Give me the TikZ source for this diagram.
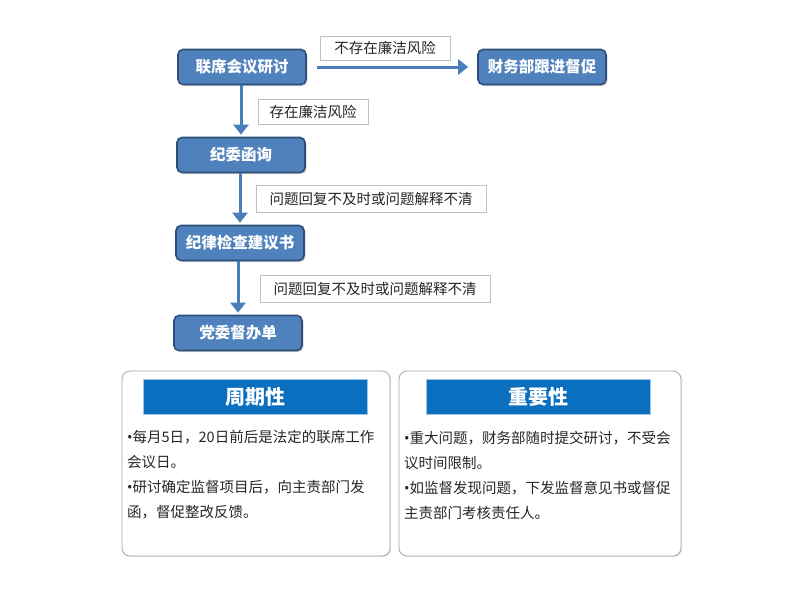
\documentclass[tikz,border=0pt]{standalone}
\usepackage{fontspec}
\setmainfont{Noto Sans CJK SC}
\newfontfamily\latinfont{Noto Sans}
\newcommand{\dotmark}{{\latinfont •}}
\usetikzlibrary{arrows.meta,shadows}
\definecolor{boxblue}{HTML}{4F81BD}
\definecolor{boxedge}{HTML}{2F4F78}
\definecolor{arrowblue}{HTML}{4A7EBB}
\definecolor{barblue}{HTML}{0B6FC0}
\definecolor{noteedge}{HTML}{BFBFBF}
\definecolor{panedge}{HTML}{A6A6A6}
\definecolor{txtgray}{HTML}{262626}
\tikzset{
  procbox/.style={draw=boxedge, line width=1.6pt, fill=boxblue, rounded corners=5pt,
    minimum width=128pt, minimum height=35pt, inner sep=0pt, text=white,
    font=\fontsize{15.5}{17}\selectfont\bfseries,
    drop shadow={opacity=0.35, shadow xshift=1.5pt, shadow yshift=-1.5pt}},
  notebox/.style={draw=noteedge, line width=0.8pt, fill=white, inner sep=0pt,
    minimum height=25pt, text=txtgray, font=\fontsize{14.5}{16}\selectfont},
  flowarrow/.style={draw=arrowblue, line width=3pt,
    -{Triangle[length=10pt,width=15pt]}},
  panel/.style={draw=panedge, line width=0.8pt, fill=white, rounded corners=8pt,
    drop shadow={opacity=0.2, shadow xshift=1pt, shadow yshift=-1pt}},
  headbar/.style={draw=barblue!40, line width=0.6pt, fill=barblue, inner sep=0pt,
    minimum width=224pt, minimum height=35pt, text=white,
    font=\fontsize{20}{22}\selectfont\bfseries},
  paneltext/.style={anchor=north west, align=left, inner sep=0pt, text=txtgray,
    font=\fontsize{14.5}{25}\selectfont}
}
\begin{document}
\begin{tikzpicture}[x=1pt,y=-1pt]
\useasboundingbox[fill=white] (0,0) rectangle (800,600);
% flow of boxes
\node[procbox] (meeting) at (242,67) {联席会议研讨};
\node[procbox] (finance) at (542,67) {财务部跟进督促};
\node[procbox] (inquiry) at (241,155) {纪委函询};
\node[procbox] (advice) at (240,243) {纪律检查建议书};
\node[procbox] (order) at (238,333) {党委督办单};
% arrows between boxes
\draw[flowarrow, shorten <=10pt, shorten >=9pt] (meeting.east) -- (finance.west);
\draw[flowarrow, shorten >=2pt] (meeting.south -| inquiry.north) -- (inquiry.north);
\draw[flowarrow, shorten >=2pt] (inquiry.south -| advice.north) -- (advice.north);
\draw[flowarrow, shorten >=2pt] (advice.south -| order.north) -- (order.north);
% condition labels
\node[notebox, minimum width=130pt, minimum height=24pt] (norisk) at (385,48) {不存在廉洁风险};
\node[notebox, minimum width=110pt] (risk) at (313,112) {存在廉洁风险};
\node[notebox, minimum width=230pt, minimum height=27pt] (late1) at (371,199) {问题回复不及时或问题解释不清};
\node[notebox, minimum width=230pt, minimum height=27pt] (late2) at (375,289) {问题回复不及时或问题解释不清};
% bottom panels
\draw[panel] (122,371) rectangle (390,556);
\draw[panel] (399,371) rectangle (681,556);
\node[headbar] (cycle) at (255,397) {周期性};
\node[headbar] (weight) at (538,397) {重要性};
\node[paneltext] (cycletext) at (127,430) {\dotmark 每月5日，20日前后是法定的联席工作\\会议日。\\\dotmark 研讨确定监督项目后，向主责部门发\\函，督促整改反馈。};
\node[paneltext] (weighttext) at (404,431) {\dotmark 重大问题，财务部随时提交研讨，不受会\\议时间限制。\\\dotmark 如监督发现问题，下发监督意见书或督促\\主责部门考核责任人。};
\end{tikzpicture}
\end{document}
